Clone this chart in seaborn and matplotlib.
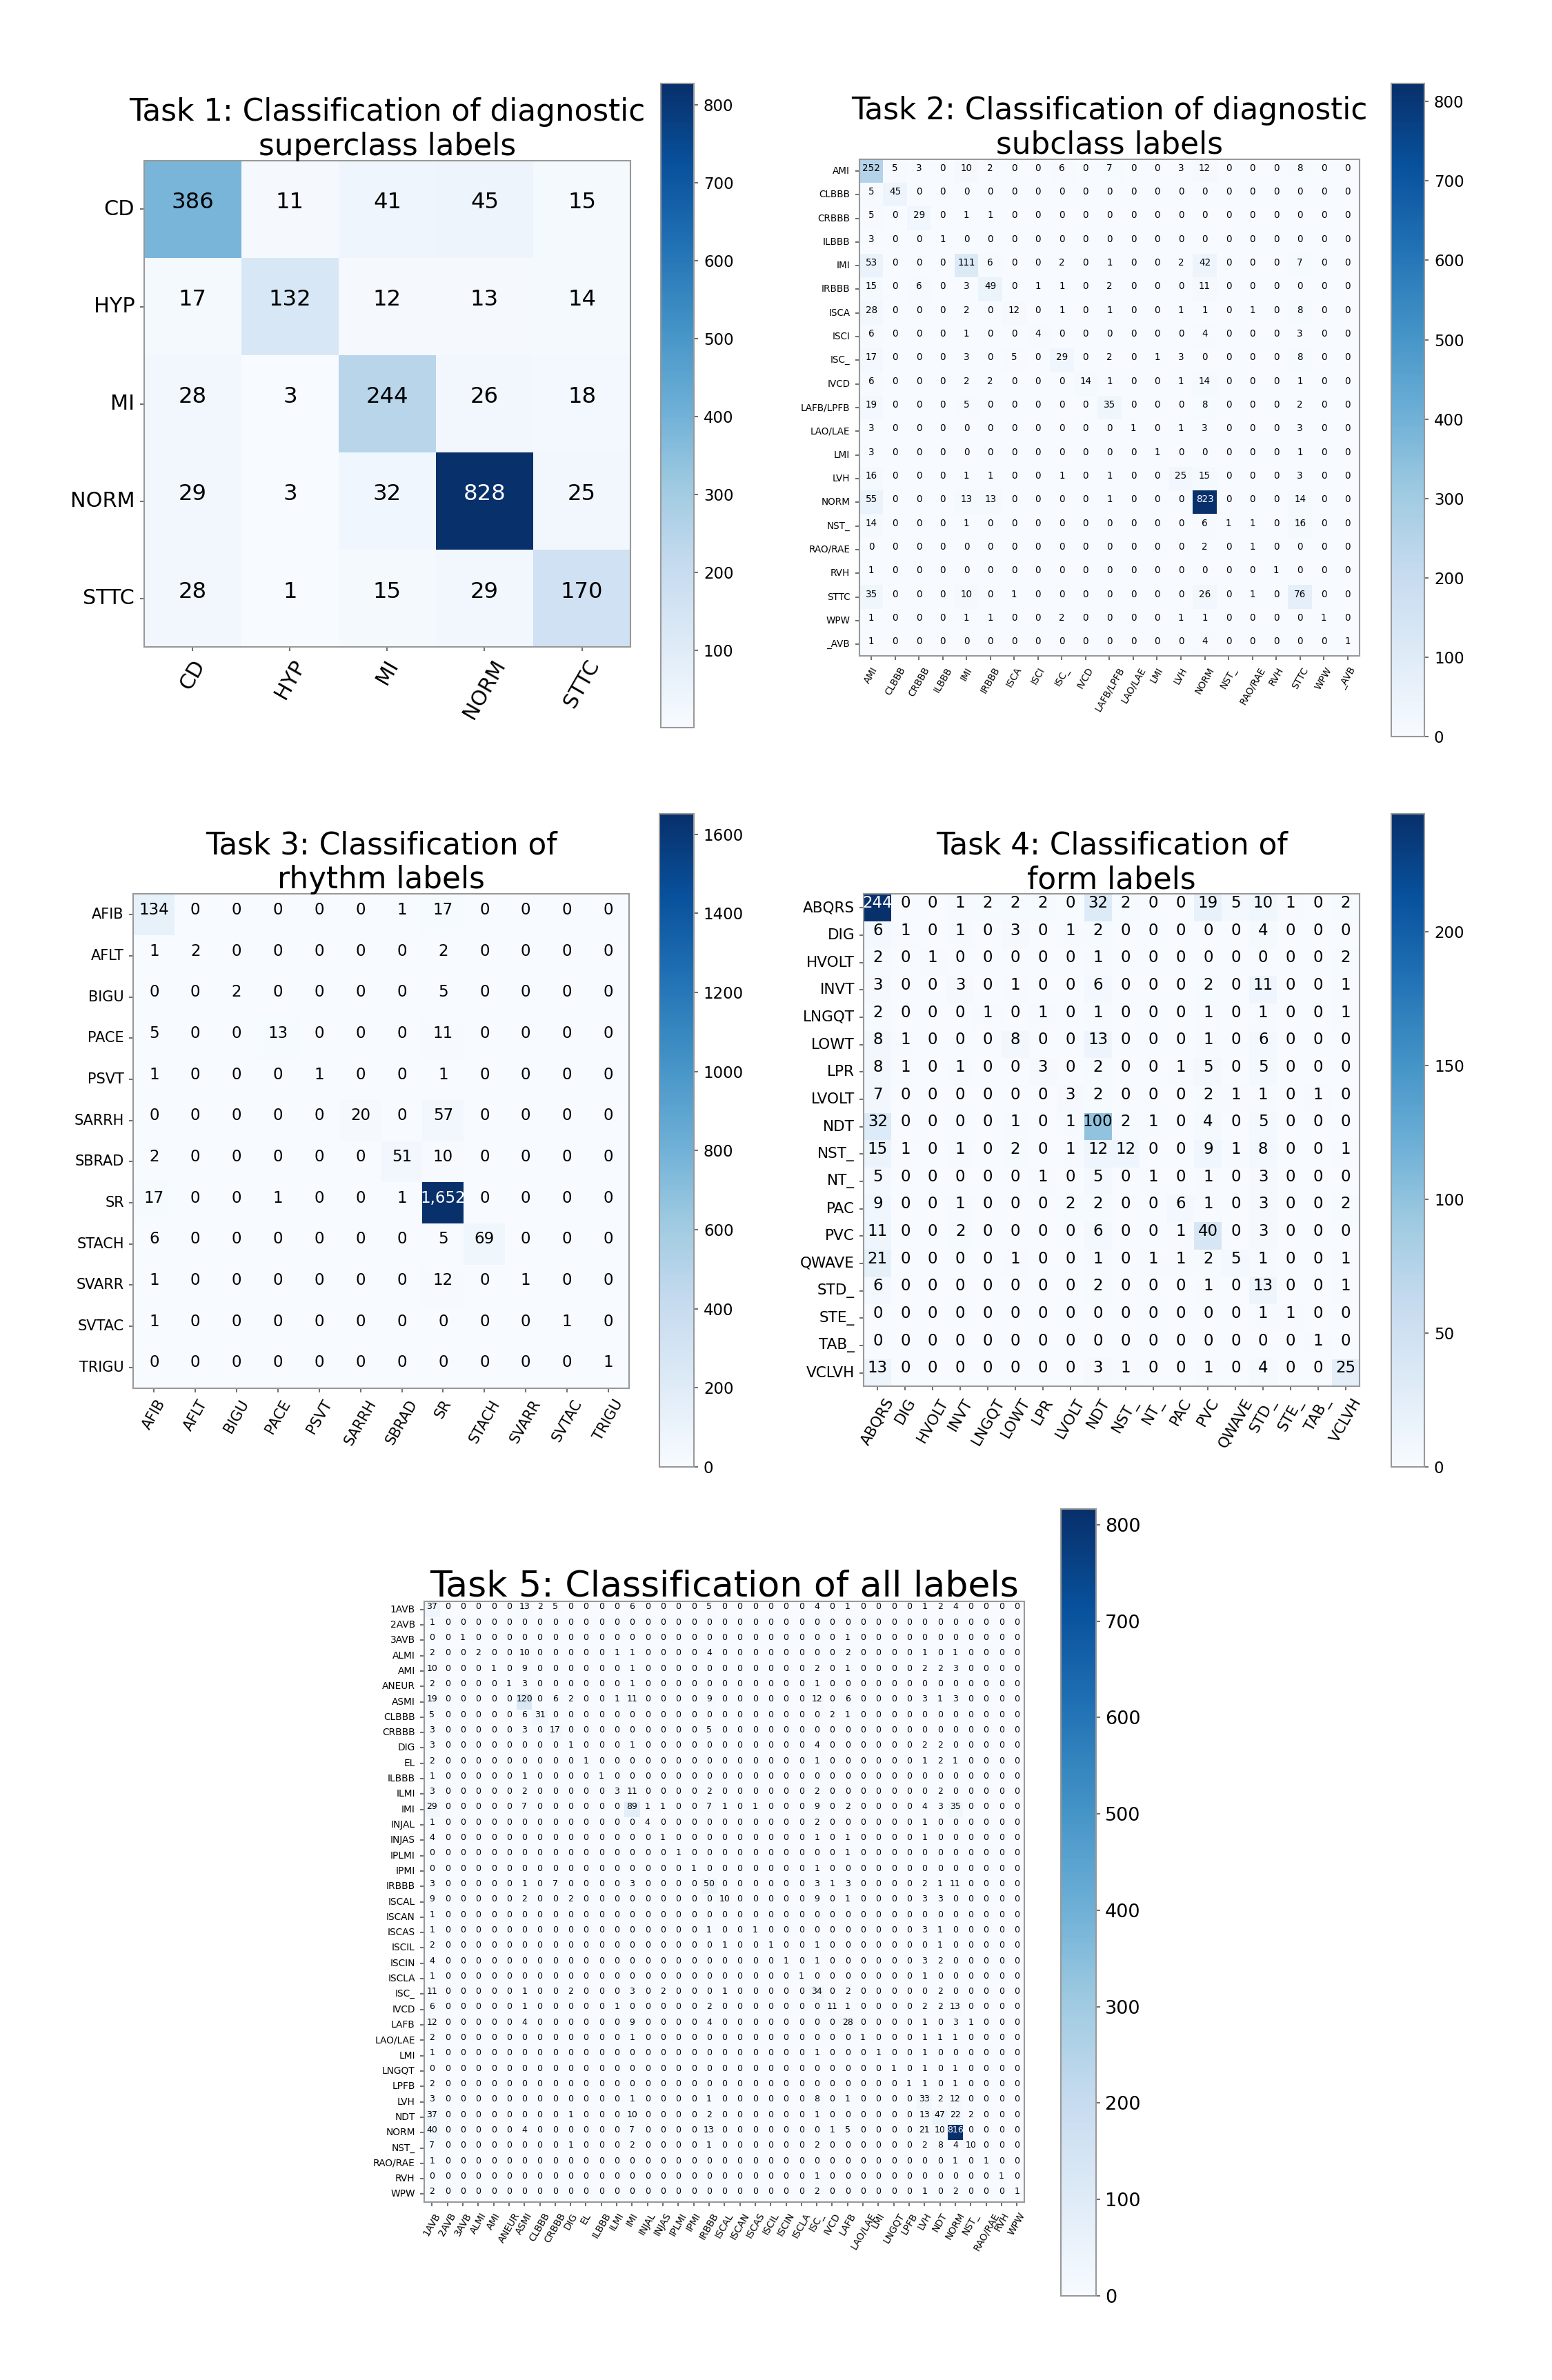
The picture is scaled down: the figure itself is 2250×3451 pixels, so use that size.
import numpy as np
import matplotlib
matplotlib.use("Agg")
import matplotlib.pyplot as plt
from matplotlib.ticker import MultipleLocator
from matplotlib.transforms import ScaledTranslation
import seaborn as sns

# Task 1: diagnostic superclasses
task1_labels = ["CD", "HYP", "MI", "NORM", "STTC"]
task1_counts = [
    [386, 11, 41, 45, 15],
    [17, 132, 12, 13, 14],
    [28, 3, 244, 26, 18],
    [29, 3, 32, 828, 25],
    [28, 1, 15, 29, 170],
]

# Task 2: diagnostic subclasses
task2_labels = ["AMI", "CLBBB", "CRBBB", "ILBBB", "IMI", "IRBBB", "ISCA", "ISCI", "ISC_", "IVCD",
                "LAFB/LPFB", "LAO/LAE", "LMI", "LVH", "NORM", "NST_", "RAO/RAE", "RVH", "STTC",
                "WPW", "_AVB"]
task2_counts = [
    [252, 5, 3, 0, 10, 2, 0, 0, 6, 0, 7, 0, 0, 3, 12, 0, 0, 0, 8, 0, 0],
    [5, 45, 0, 0, 0, 0, 0, 0, 0, 0, 0, 0, 0, 0, 0, 0, 0, 0, 0, 0, 0],
    [5, 0, 29, 0, 1, 1, 0, 0, 0, 0, 0, 0, 0, 0, 0, 0, 0, 0, 0, 0, 0],
    [3, 0, 0, 1, 0, 0, 0, 0, 0, 0, 0, 0, 0, 0, 0, 0, 0, 0, 0, 0, 0],
    [53, 0, 0, 0, 111, 6, 0, 0, 2, 0, 1, 0, 0, 2, 42, 0, 0, 0, 7, 0, 0],
    [15, 0, 6, 0, 3, 49, 0, 1, 1, 0, 2, 0, 0, 0, 11, 0, 0, 0, 0, 0, 0],
    [28, 0, 0, 0, 2, 0, 12, 0, 1, 0, 1, 0, 0, 1, 1, 0, 1, 0, 8, 0, 0],
    [6, 0, 0, 0, 1, 0, 0, 4, 0, 0, 0, 0, 0, 0, 4, 0, 0, 0, 3, 0, 0],
    [17, 0, 0, 0, 3, 0, 5, 0, 29, 0, 2, 0, 1, 3, 0, 0, 0, 0, 8, 0, 0],
    [6, 0, 0, 0, 2, 2, 0, 0, 0, 14, 1, 0, 0, 1, 14, 0, 0, 0, 1, 0, 0],
    [19, 0, 0, 0, 5, 0, 0, 0, 0, 0, 35, 0, 0, 0, 8, 0, 0, 0, 2, 0, 0],
    [3, 0, 0, 0, 0, 0, 0, 0, 0, 0, 0, 1, 0, 1, 3, 0, 0, 0, 3, 0, 0],
    [3, 0, 0, 0, 0, 0, 0, 0, 0, 0, 0, 0, 1, 0, 0, 0, 0, 0, 1, 0, 0],
    [16, 0, 0, 0, 1, 1, 0, 0, 1, 0, 1, 0, 0, 25, 15, 0, 0, 0, 3, 0, 0],
    [55, 0, 0, 0, 13, 13, 0, 0, 0, 0, 1, 0, 0, 0, 823, 0, 0, 0, 14, 0, 0],
    [14, 0, 0, 0, 1, 0, 0, 0, 0, 0, 0, 0, 0, 0, 6, 1, 1, 0, 16, 0, 0],
    [0, 0, 0, 0, 0, 0, 0, 0, 0, 0, 0, 0, 0, 0, 2, 0, 1, 0, 0, 0, 0],
    [1, 0, 0, 0, 0, 0, 0, 0, 0, 0, 0, 0, 0, 0, 0, 0, 0, 1, 0, 0, 0],
    [35, 0, 0, 0, 10, 0, 1, 0, 0, 0, 0, 0, 0, 0, 26, 0, 1, 0, 76, 0, 0],
    [1, 0, 0, 0, 1, 1, 0, 0, 2, 0, 0, 0, 0, 1, 1, 0, 0, 0, 0, 1, 0],
    [1, 0, 0, 0, 0, 0, 0, 0, 0, 0, 0, 0, 0, 0, 4, 0, 0, 0, 0, 0, 1],
]

# Task 3: rhythm
task3_labels = ["AFIB", "AFLT", "BIGU", "PACE", "PSVT", "SARRH", "SBRAD", "SR", "STACH",
                "SVARR", "SVTAC", "TRIGU"]
task3_counts = [
    [134, 0, 0, 0, 0, 0, 1, 17, 0, 0, 0, 0],
    [1, 2, 0, 0, 0, 0, 0, 2, 0, 0, 0, 0],
    [0, 0, 2, 0, 0, 0, 0, 5, 0, 0, 0, 0],
    [5, 0, 0, 13, 0, 0, 0, 11, 0, 0, 0, 0],
    [1, 0, 0, 0, 1, 0, 0, 1, 0, 0, 0, 0],
    [0, 0, 0, 0, 0, 20, 0, 57, 0, 0, 0, 0],
    [2, 0, 0, 0, 0, 0, 51, 10, 0, 0, 0, 0],
    [17, 0, 0, 1, 0, 0, 1, 1652, 0, 0, 0, 0],
    [6, 0, 0, 0, 0, 0, 0, 5, 69, 0, 0, 0],
    [1, 0, 0, 0, 0, 0, 0, 12, 0, 1, 0, 0],
    [1, 0, 0, 0, 0, 0, 0, 0, 0, 0, 1, 0],
    [0, 0, 0, 0, 0, 0, 0, 0, 0, 0, 0, 1],
]

# Task 4: form
task4_labels = ["ABQRS", "DIG", "HVOLT", "INVT", "LNGQT", "LOWT", "LPR", "LVOLT", "NDT", "NST_",
                "NT_", "PAC", "PVC", "QWAVE", "STD_", "STE_", "TAB_", "VCLVH"]
task4_counts = [
    [244, 0, 0, 1, 2, 2, 2, 0, 32, 2, 0, 0, 19, 5, 10, 1, 0, 2],
    [6, 1, 0, 1, 0, 3, 0, 1, 2, 0, 0, 0, 0, 0, 4, 0, 0, 0],
    [2, 0, 1, 0, 0, 0, 0, 0, 1, 0, 0, 0, 0, 0, 0, 0, 0, 2],
    [3, 0, 0, 3, 0, 1, 0, 0, 6, 0, 0, 0, 2, 0, 11, 0, 0, 1],
    [2, 0, 0, 0, 1, 0, 1, 0, 1, 0, 0, 0, 1, 0, 1, 0, 0, 1],
    [8, 1, 0, 0, 0, 8, 0, 0, 13, 0, 0, 0, 1, 0, 6, 0, 0, 0],
    [8, 1, 0, 1, 0, 0, 3, 0, 2, 0, 0, 1, 5, 0, 5, 0, 0, 0],
    [7, 0, 0, 0, 0, 0, 0, 3, 2, 0, 0, 0, 2, 1, 1, 0, 1, 0],
    [32, 0, 0, 0, 0, 1, 0, 1, 100, 2, 1, 0, 4, 0, 5, 0, 0, 0],
    [15, 1, 0, 1, 0, 2, 0, 1, 12, 12, 0, 0, 9, 1, 8, 0, 0, 1],
    [5, 0, 0, 0, 0, 0, 1, 0, 5, 0, 1, 0, 1, 0, 3, 0, 0, 0],
    [9, 0, 0, 1, 0, 0, 0, 2, 2, 0, 0, 6, 1, 0, 3, 0, 0, 2],
    [11, 0, 0, 2, 0, 0, 0, 0, 6, 0, 0, 1, 40, 0, 3, 0, 0, 0],
    [21, 0, 0, 0, 0, 1, 0, 0, 1, 0, 1, 1, 2, 5, 1, 0, 0, 1],
    [6, 0, 0, 0, 0, 0, 0, 0, 2, 0, 0, 0, 1, 0, 13, 0, 0, 1],
    [0, 0, 0, 0, 0, 0, 0, 0, 0, 0, 0, 0, 0, 0, 1, 1, 0, 0],
    [0, 0, 0, 0, 0, 0, 0, 0, 0, 0, 0, 0, 0, 0, 0, 0, 1, 0],
    [13, 0, 0, 0, 0, 0, 0, 0, 3, 1, 0, 0, 1, 0, 4, 0, 0, 25],
]

# Task 5: all labels (non-zero cells only, true label -> predicted label)
task5_labels = ["1AVB", "2AVB", "3AVB", "ALMI", "AMI", "ANEUR", "ASMI", "CLBBB", "CRBBB", "DIG",
                "EL", "ILBBB", "ILMI", "IMI", "INJAL", "INJAS", "IPLMI", "IPMI", "IRBBB", "ISCAL",
                "ISCAN", "ISCAS", "ISCIL", "ISCIN", "ISCLA", "ISC_", "IVCD", "LAFB", "LAO/LAE",
                "LMI", "LNGQT", "LPFB", "LVH", "NDT", "NORM", "NST_", "RAO/RAE", "RVH", "WPW"]
task5_nonzero = {
    "1AVB": {"1AVB": 37, "ASMI": 13, "CLBBB": 2, "CRBBB": 5, "IMI": 6, "IRBBB": 5, "ISC_": 4,
             "LAFB": 1, "LVH": 1, "NDT": 2, "NORM": 4},
    "2AVB": {"1AVB": 1},
    "3AVB": {"3AVB": 1, "LAFB": 1},
    "ALMI": {"1AVB": 2, "ALMI": 2, "ASMI": 10, "ILMI": 1, "IMI": 1, "IRBBB": 4, "LAFB": 2,
             "LVH": 1, "NORM": 1},
    "AMI": {"1AVB": 10, "AMI": 1, "ASMI": 9, "IMI": 1, "ISC_": 2, "LAFB": 1, "LVH": 2, "NDT": 2,
            "NORM": 3},
    "ANEUR": {"1AVB": 2, "ANEUR": 1, "ASMI": 3, "IMI": 1, "ISC_": 1},
    "ASMI": {"1AVB": 19, "ASMI": 120, "CRBBB": 6, "DIG": 2, "ILMI": 1, "IMI": 11, "IRBBB": 9,
             "ISC_": 12, "LAFB": 6, "LVH": 3, "NDT": 1, "NORM": 3},
    "CLBBB": {"1AVB": 5, "ASMI": 6, "CLBBB": 31, "IVCD": 2, "LAFB": 1},
    "CRBBB": {"1AVB": 3, "ASMI": 3, "CRBBB": 17, "IRBBB": 5},
    "DIG": {"1AVB": 3, "DIG": 1, "IMI": 1, "ISC_": 4, "LVH": 2, "NDT": 2},
    "EL": {"1AVB": 2, "EL": 1, "ISC_": 1, "LVH": 1, "NDT": 2, "NORM": 1},
    "ILBBB": {"1AVB": 1, "ASMI": 1, "ILBBB": 1},
    "ILMI": {"1AVB": 3, "ASMI": 2, "ILMI": 3, "IMI": 11, "IRBBB": 2, "ISC_": 2, "NDT": 2},
    "IMI": {"1AVB": 29, "ASMI": 7, "IMI": 89, "INJAL": 1, "INJAS": 1, "IRBBB": 7, "ISCAL": 1,
            "ISCAS": 1, "ISC_": 9, "LAFB": 2, "LVH": 4, "NDT": 3, "NORM": 35},
    "INJAL": {"1AVB": 1, "INJAL": 4, "ISC_": 2, "LVH": 1},
    "INJAS": {"1AVB": 4, "INJAS": 1, "ISC_": 1, "LAFB": 1, "LVH": 1},
    "IPLMI": {"IPLMI": 1, "LAFB": 1},
    "IPMI": {"IPMI": 1, "ISC_": 1},
    "IRBBB": {"1AVB": 3, "ASMI": 1, "CRBBB": 7, "IMI": 3, "IRBBB": 50, "ISC_": 3, "IVCD": 1,
              "LAFB": 3, "LVH": 2, "NDT": 1, "NORM": 11},
    "ISCAL": {"1AVB": 9, "ASMI": 2, "DIG": 2, "ISCAL": 10, "ISC_": 9, "LAFB": 1, "LVH": 3,
              "NDT": 3},
    "ISCAN": {"1AVB": 1},
    "ISCAS": {"1AVB": 1, "IRBBB": 1, "ISCAS": 1, "LVH": 3, "NDT": 1},
    "ISCIL": {"1AVB": 2, "ISCAL": 1, "ISCIL": 1, "ISC_": 1, "NDT": 1},
    "ISCIN": {"1AVB": 4, "ISCIN": 1, "ISC_": 1, "LVH": 3, "NDT": 2},
    "ISCLA": {"1AVB": 1, "ISCLA": 1, "LVH": 1},
    "ISC_": {"1AVB": 11, "ASMI": 1, "DIG": 2, "IMI": 3, "INJAS": 2, "ISCAL": 1, "ISC_": 34,
             "LAFB": 2, "NDT": 2},
    "IVCD": {"1AVB": 6, "ASMI": 1, "ILMI": 1, "IRBBB": 2, "IVCD": 11, "LAFB": 1, "LVH": 2,
             "NDT": 2, "NORM": 13},
    "LAFB": {"1AVB": 12, "ASMI": 4, "IMI": 9, "IRBBB": 4, "LAFB": 28, "LVH": 1, "NORM": 3,
             "NST_": 1},
    "LAO/LAE": {"1AVB": 2, "IMI": 1, "LAO/LAE": 1, "LVH": 1, "NDT": 1, "NORM": 1},
    "LMI": {"1AVB": 1, "ISC_": 1, "LMI": 1, "LVH": 1},
    "LNGQT": {"LNGQT": 1, "LVH": 1, "NORM": 1},
    "LPFB": {"1AVB": 2, "LPFB": 1, "LVH": 1, "NORM": 1},
    "LVH": {"1AVB": 3, "IMI": 1, "IRBBB": 1, "ISC_": 8, "LAFB": 1, "LVH": 33, "NDT": 2,
            "NORM": 12},
    "NDT": {"1AVB": 37, "DIG": 1, "IMI": 10, "IRBBB": 2, "ISC_": 1, "LVH": 13, "NDT": 47,
            "NORM": 22, "NST_": 2},
    "NORM": {"1AVB": 40, "ASMI": 4, "IMI": 7, "IRBBB": 13, "IVCD": 1, "LAFB": 5, "LVH": 21,
             "NDT": 10, "NORM": 816},
    "NST_": {"1AVB": 7, "DIG": 1, "IMI": 2, "IRBBB": 1, "ISC_": 2, "LVH": 2, "NDT": 8,
             "NORM": 4, "NST_": 10},
    "RAO/RAE": {"1AVB": 1, "NORM": 1, "RAO/RAE": 1},
    "RVH": {"ISC_": 1, "RVH": 1},
    "WPW": {"1AVB": 2, "ISC_": 2, "LVH": 1, "NORM": 2, "WPW": 1},
}

task5_counts = [[task5_nonzero[r].get(c, 0) for c in task5_labels] for r in task5_labels]

sns.set_style("white")
plt.rcParams["font.family"] = ["DejaVu Sans"]
plt.rcParams["text.color"] = "black"
plt.rcParams["xtick.labelcolor"] = "black"
plt.rcParams["ytick.labelcolor"] = "black"

FIG_W, FIG_H = 1024.0, 1570.6  # layout measured on a 1024 px wide view


def box(left, top, right, bottom):
    return [left / FIG_W, 1 - bottom / FIG_H, (right - left) / FIG_W, (bottom - top) / FIG_H]


def draw_matrix(fig, counts, labels, title, rect, cbar_rect, sizes, step):
    title_size, tick_size, annot_size, cbar_size = sizes
    data = np.array(counts, dtype=int)
    ax = fig.add_axes(box(*rect))
    cax = fig.add_axes(box(*cbar_rect))
    sns.heatmap(data, ax=ax, cbar_ax=cax, cmap="Blues", annot=True, fmt=",",
                annot_kws={"size": annot_size}, xticklabels=labels, yticklabels=labels)

    # dark cells get white numbers; numbers sit a little above the cell centre
    thresh = data.max() / 2
    lift = ScaledTranslation(0, 0.3 * annot_size / 72, fig.dpi_scale_trans)
    for txt, val in zip(ax.texts, data.flatten()):
        txt.set_color("white" if val > thresh else "black")
        txt.set_transform(txt.get_transform() + lift)

    ax.set_xticklabels(labels, rotation=60, ha="center", fontsize=tick_size)
    ax.set_yticklabels(labels, rotation=0, fontsize=tick_size)
    ax.tick_params(bottom=True, left=True, length=3, width=0.8, color="#555555")
    for sp in ax.spines.values():
        sp.set_visible(True)
        sp.set_color("#999999")
        sp.set_linewidth(1.0)
    ax.set_title(title, fontsize=title_size, pad=4, color="black")

    cbar = ax.collections[0].colorbar
    cbar.locator = MultipleLocator(step)
    cbar.update_ticks()
    cax.tick_params(labelsize=cbar_size, length=3, width=0.8, color="#555555", right=True)
    cbar.outline.set_edgecolor("#999999")
    cbar.outline.set_linewidth(1.0)


fig = plt.figure(figsize=(15, 3451 / 150), dpi=150)

draw_matrix(fig, task1_counts, task1_labels,
            "Task 1: Classification of diagnostic\nsuperclass labels",
            (95, 106, 416, 427), (436, 55, 458, 480), (21, 14.5, 15.5, 11), 100)
draw_matrix(fig, task2_counts, task2_labels,
            "Task 2: Classification of diagnostic\nsubclass labels",
            (567, 105, 897, 433), (918, 55, 940, 486), (21, 6.5, 6.5, 11), 100)
draw_matrix(fig, task3_counts, task3_labels,
            "Task 3: Classification of\nrhythm labels",
            (88, 590, 415, 916), (435, 537, 458, 968), (21, 10, 11, 11), 200)
draw_matrix(fig, task4_counts, task4_labels,
            "Task 4: Classification of\nform labels",
            (570, 590, 897, 915), (918, 537, 940, 968), (21, 10.3, 11, 11), 50)
draw_matrix(fig, task5_counts, task5_labels,
            "Task 5: Classification of all labels",
            (280, 1057, 676, 1453), (700, 996, 723, 1515), (25, 6.6, 6, 13), 100)

fig.savefig("out.png", dpi=150)
